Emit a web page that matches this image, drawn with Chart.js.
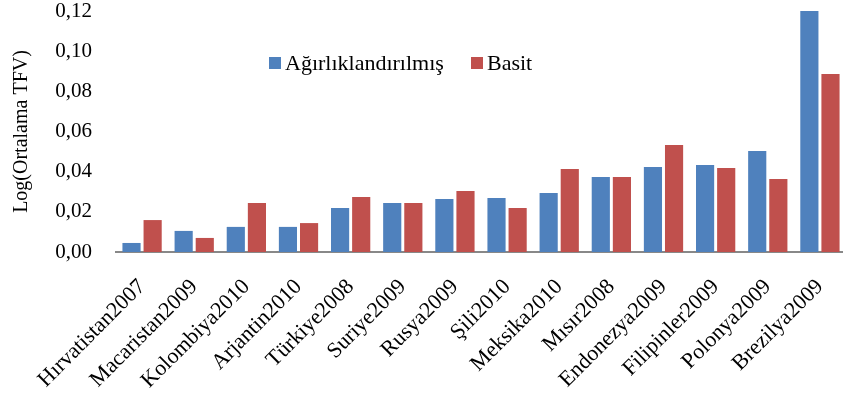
<!DOCTYPE html>
<html>
<head>
<meta charset="utf-8">
<script src="https://cdn.jsdelivr.net/npm/chart.js@4/dist/chart.umd.min.js"></script>
<style>
  html, body { margin: 0; padding: 0; background: #fff; overflow: hidden; }
  #wrap { width: 846px; height: 401px; position: relative; }
</style>
</head>
<body>
<div id="wrap"><canvas id="c"></canvas></div>
<script>
// Ülke-yıl kategorileri
const categories = [
  'Hırvatistan2007', 'Macaristan2009', 'Kolombiya2010', 'Arjantin2010',
  'Türkiye2008', 'Suriye2009', 'Rusya2009', 'Şili2010', 'Meksika2010',
  'Mısır2008', 'Endonezya2009', 'Filipinler2009', 'Polonya2009', 'Brezilya2009'
];
// Ağırlıklandırılmış ortalama
const weighted = [0.0045, 0.0105, 0.0125, 0.0125, 0.0219, 0.0244, 0.0264,
                  0.0269, 0.0294, 0.0374, 0.0423, 0.0433, 0.0503, 0.1200];
// Basit ortalama
const simple = [0.0159, 0.0070, 0.0244, 0.0144, 0.0274, 0.0244, 0.0304,
                0.0219, 0.0413, 0.0374, 0.0533, 0.0418, 0.0364, 0.0886];
// Y ekseni
const yMin = 0;
const yMax = 0.12;
const yStep = 0.02;

const FONT = "'Liberation Serif', 'DejaVu Serif', serif";

// Grafik alanının içine yerleştirilen açıklama
const insideLegend = {
  id: 'insideLegend',
  afterDraw(chart, args, opts) {
    const ctx = chart.ctx;
    ctx.save();
    ctx.font = opts.fontSize + 'px ' + FONT;
    ctx.textBaseline = 'middle';
    ctx.textAlign = 'left';
    chart.data.datasets.forEach((ds, i) => {
      const x = opts.items[i];
      ctx.fillStyle = ds.backgroundColor;
      ctx.fillRect(x, opts.y - opts.box / 2, opts.box, opts.box);
      ctx.fillStyle = '#000';
      ctx.fillText(ds.label, x + opts.box + 4, opts.y + 1);
    });
    ctx.restore();
  }
};

new Chart(document.getElementById('c'), {
  type: 'bar',
  data: {
    labels: categories,
    datasets: [
      { label: 'Ağırlıklandırılmış', data: weighted, backgroundColor: '#4F81BD' },
      { label: 'Basit', data: simple, backgroundColor: '#C0504D' }
    ]
  },
  options: {
    responsive: true,
    maintainAspectRatio: false,
    animation: false,
    devicePixelRatio: 1,
    layout: { padding: { top: 11, right: 0, left: 0, bottom: 0 } },
    datasets: {
      bar: { categoryPercentage: 0.81, barPercentage: 0.86 }
    },
    plugins: {
      legend: { display: false },
      tooltip: { enabled: false },
      insideLegend: { items: [269, 471], y: 63, box: 12, fontSize: 22 }
    },
    scales: {
      x: {
        grid: { display: false, drawTicks: false },
        border: { display: true, color: '#888888', width: 2 },
        ticks: {
          color: '#000',
          font: { family: FONT, size: 22 },
          minRotation: 45,
          maxRotation: 45,
          autoSkip: false,
          padding: 22
        },
        afterFit(scale) {
          scale.height = 149;
          scale.paddingLeft = 0;
          scale.paddingRight = 0;
        }
      },
      y: {
        min: yMin,
        max: yMax,
        grid: { display: false, drawTicks: false },
        border: { display: false },
        ticks: {
          stepSize: yStep,
          color: '#000',
          font: { family: FONT, size: 21 },
          padding: 24,
          callback: v => v.toFixed(2).replace('.', ',')
        },
        title: {
          display: true,
          text: 'Log(Ortalama TFV)',
          color: '#000',
          font: { family: FONT, size: 20 },
          padding: { top: 10, bottom: 0 }
        },
        afterFit(scale) {
          scale.width = 116;
          scale.paddingTop = 0;
          scale.paddingBottom = 0;
        }
      }
    }
  },
  plugins: [insideLegend]
});
</script>
</body>
</html>
